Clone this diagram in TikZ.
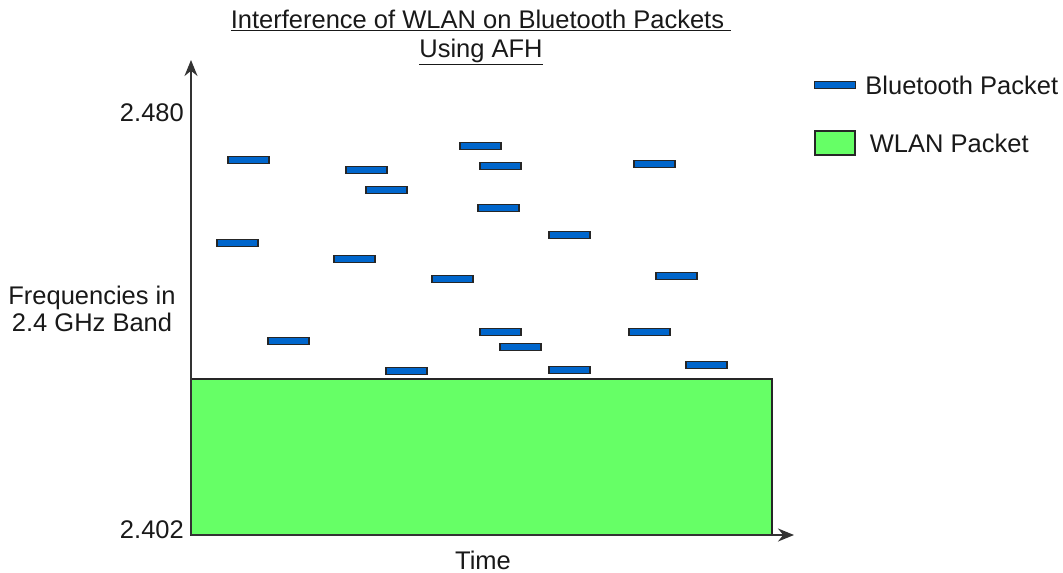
\documentclass[tikz,border=0pt]{standalone}
\usepackage{fontspec}
\setmainfont{Liberation Sans}
\usetikzlibrary{positioning,arrows.meta}
\definecolor{btblue}{HTML}{0066CC}
\definecolor{wlangreen}{HTML}{66FF66}

\begin{document}
\begin{tikzpicture}[
  x=1pt, y=-1pt,
  font=\fontsize{25.5}{27}\selectfont,
  >={Stealth[length=16pt,width=13pt]},
  axis/.style={->, line width=2pt, draw=black!80},
  btpkt/.style={draw=black!85, line width=1.4pt, fill=btblue, inner sep=0pt,
                minimum width=41pt, minimum height=7pt},
  wlanpkt/.style={draw=black!85, line width=1.4pt, fill=wlangreen, inner sep=0pt},
  lbl/.style={inner sep=0pt, align=center, text=black!90},
]
\useasboundingbox (0,0) rectangle (1063,573);

% ---- WLAN band ----
\node[wlanpkt, minimum width=581pt, minimum height=156pt] (wlan) at (481.5,457) {};

% ---- axes ----
\coordinate (o) at (191,535);
\coordinate (ytip) at (191,60);
\coordinate (xtip) at (794,535);
\draw[axis] (o) -- (ytip);
\draw[axis] (o) -- (xtip);

% ---- bluetooth hops (left edge / centre line) ----
\foreach \px/\py [count=\i] in {228/160, 346/170, 366/190, 460/146, 480/166, 478/208,
    217/243, 334/259, 432/279, 634/164, 549/235, 656/276, 268/341, 386/371,
    480/332, 500/347, 549/370, 629/332, 686/365}{
  \node[btpkt] (p\i) at (\px+20.5,\py) {};
}

% ---- axis labels ----
\node[lbl, anchor=east] (fhi) at (184,113) {2.480};
\node[lbl, anchor=east] (flo) at (184,530) {2.402};
\node[lbl] (ylabel) at (92,309) {Frequencies in\\2.4 GHz Band};
\node[lbl] (xlabel) at (483,560) {Time};

% ---- title ----
\node[lbl, font=\fontsize{25.5}{29}\selectfont] (title) at (481,37)
  {\underline{Interference of WLAN on Bluetooth Packets\ }\\\underline{Using AFH}};

% ---- legend ----
\node[btpkt] (legbt) at (835,85) {};
\node[lbl, right=9pt of legbt] (legbttxt) {Bluetooth Packet};
\node[wlanpkt, minimum width=40pt, minimum height=24pt] (legwlan) at (835,143) {};
\node[lbl, right=14pt of legwlan] (legwlantxt) {WLAN Packet};
\end{tikzpicture}
\end{document}
